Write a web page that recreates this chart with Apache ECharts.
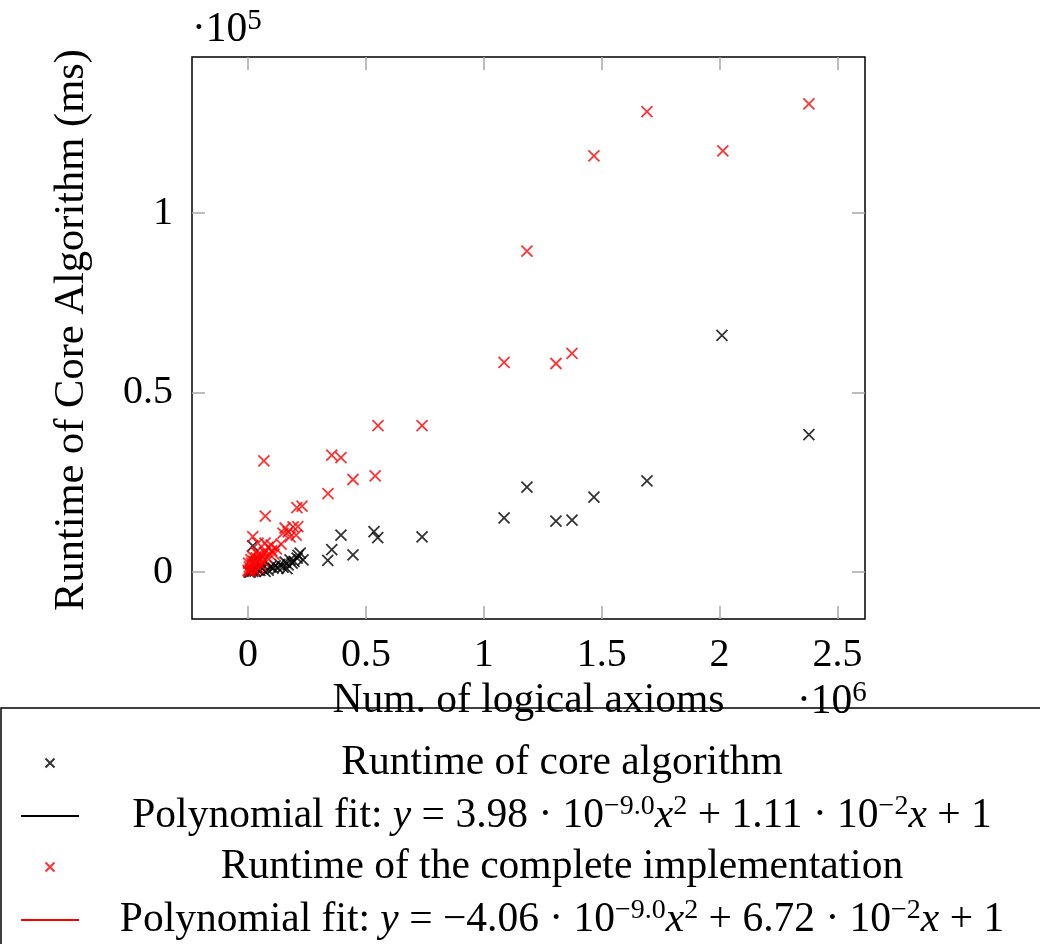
<!DOCTYPE html>
<html>
<head>
<meta charset="utf-8">
<script src="https://cdn.jsdelivr.net/npm/echarts@6/dist/echarts.min.js"></script>
<style>
  html, body { margin: 0; padding: 0; background: #fff; }
  #main { width: 1040px; height: 944px; }
</style>
</head>
<body>
<div id="main"></div>
<script>
// values: [num. of logical axioms, runtime in ms]
var coreRuntime = [
  [2010000, 65900], [2379000, 38300], [1692000, 25400], [1467000, 20900],
  [1183000, 23700], [1086000, 15100], [1306000, 14200], [1374000, 14500],
  [738000, 9800], [534000, 11300], [550000, 9600], [445000, 4800],
  [394000, 10300], [355000, 6300], [338000, 3300], [20000, 7300],
  [221000, 5300], [233000, 3400], [212000, 4700], [208000, 3900],
  [187000, 2500], [178000, 3400], [170000, 2000], [157000, 2800],
  [148000, 1400], [127000, 1100], [106000, 1100], [85000, 600],
  [72000, 200], [60000, 1000], [55000, 1700], [50000, 500],
  [40000, 800], [35000, 1500], [30000, 300], [20000, 200],
  [10000, 100], [5000, 0], [95000, 1500], [115000, 1800],
  [135000, 2200], [165000, 1000], [195000, 3000]
];
var fullRuntime = [
  [2379000, 130400], [1692000, 128200], [2014000, 117300], [1467000, 115900],
  [1183000, 89400], [1086000, 58400], [1306000, 58100], [1374000, 60900],
  [738000, 40800], [551000, 40800], [539000, 26800], [445000, 25800],
  [355000, 32600], [394000, 31900], [339000, 21900], [67000, 31000],
  [73000, 15600], [207000, 18000], [229000, 18400], [211000, 12700],
  [20000, 9900], [157000, 12300], [170000, 11200], [191000, 12600],
  [204000, 10300], [178000, 9800], [148000, 10900], [72000, 8100],
  [85000, 7000], [42000, 8100], [140000, 7800], [98000, 7500],
  [0, 500], [5000, 1500], [10000, 800], [15000, 2500], [20000, 1200],
  [25000, 3000], [30000, 2000], [35000, 4000], [40000, 2800], [45000, 5000],
  [50000, 3500], [55000, 1800], [60000, 4500], [65000, 3000], [70000, 5500],
  [80000, 4000], [90000, 5000], [100000, 6000], [110000, 5000], [8000, 300],
  [3000, 200], [12000, 3500], [28000, 600], [45000, 1000], [2000, 2500],
  [18000, 4500], [33000, 5500], [120000, 6500]
];
var xTicks = [0, 500000, 1000000, 1500000, 2000000, 2500000];
var yTicks = [0, 50000, 100000];
var seriesNames = [
  'Runtime of core algorithm',
  'Polynomial fit: y = 3.98 · 10^−9.0 x^2 + 1.11 · 10^−2 x + 1',
  'Runtime of the complete implementation',
  'Polynomial fit: y = −4.06 · 10^−9.0 x^2 + 6.72 · 10^−2 x + 1'
];
var legendRich = [
  '{n|Runtime of core algorithm}',
  '{n|Polynomial fit: }{i|y}{n| = 3.98 · 10}{s|−9.0}{i|x}{s|2}{n| + 1.11 · 10}{s|−2}{i|x}{n| + 1}',
  '{n|Runtime of the complete implementation}',
  '{n|Polynomial fit: }{i|y}{n| = −4.06 · 10}{s|−9.0}{i|x}{s|2}{n| + 6.72 · 10}{s|−2}{i|x}{n| + 1}'
];

var serif = 'Liberation Serif';
var cross = 'path://M0,0L10,10M10,0L0,10';

var dom = document.getElementById('main');
var myChart = echarts.init(dom);

var tickStyle = { show: true, inside: true, length: 13, lineStyle: { color: '#a8a8a8', width: 1.5 } };

function xAxisDef(pos, labels) {
  return {
    type: 'value', position: pos,
    min: -237900, max: 2616900,
    splitLine: { show: false },
    axisLine: { show: false, onZero: false },
    axisTick: Object.assign({ customValues: xTicks }, tickStyle),
    axisLabel: {
      show: labels, customValues: xTicks, margin: 16,
      color: '#000', fontFamily: serif, fontSize: 40,
      formatter: function (v) { return String(v / 1e6); }
    }
  };
}
function yAxisDef(pos, labels) {
  return {
    type: 'value', position: pos,
    min: -13040, max: 143440,
    splitLine: { show: false },
    axisLine: { show: false, onZero: false },
    axisTick: Object.assign({ customValues: yTicks }, tickStyle),
    axisLabel: {
      show: labels, customValues: yTicks, margin: 19,
      color: '#000', fontFamily: serif, fontSize: 40,
      formatter: function (v) { return String(v / 1e5); }
    }
  };
}

var xBottom = xAxisDef('bottom', true);
xBottom.name = 'Num. of logical axioms';
xBottom.nameLocation = 'middle';
xBottom.nameGap = 60;
xBottom.nameTextStyle = { color: '#000', fontFamily: serif, fontSize: 41.5 };

var yLeft = yAxisDef('left', true);
yLeft.name = 'Runtime of Core Algorithm (ms)';
yLeft.nameLocation = 'middle';
yLeft.nameGap = 99;
yLeft.nameTextStyle = { color: '#000', fontFamily: serif, fontSize: 42.5, padding: [0, 0, 0, 16] };

var txt = { fontFamily: serif, fontSize: 41.5, color: '#000', align: 'center', lineHeight: 46 };

option = {
  backgroundColor: '#fff',
  animation: false,
  grid: {
    left: 192, top: 57, width: 673, height: 562,
    show: true, borderColor: '#000', borderWidth: 1.5, backgroundColor: 'transparent'
  },
  xAxis: [xBottom, xAxisDef('top', false)],
  yAxis: [yLeft, yAxisDef('right', false)],
  legend: {
    orient: 'vertical',
    left: 20, top: 742, height: 260,
    padding: 0,
    itemGap: 9,
    itemWidth: 58, itemHeight: 9,
    selectedMode: false,
    data: seriesNames,
    formatter: function (name) { return legendRich[seriesNames.indexOf(name)]; },
    textStyle: {
      width: 956,
      rich: {
        n: txt,
        i: Object.assign({}, txt, { fontStyle: 'italic' }),
        s: { fontFamily: serif, fontSize: 28, color: '#000', align: 'center', lineHeight: 24, verticalAlign: 'top' }
      }
    }
  },
  graphic: [
    {
      type: 'rect', silent: true,
      shape: { x: 1, y: 708, width: 1100, height: 300 },
      style: { fill: 'none', stroke: '#000', lineWidth: 1.5 }
    },
    {
      type: 'text', x: 192, y: 30, silent: true,
      style: {
        text: '{a|·10}{b|5}', verticalAlign: 'middle',
        rich: {
          a: { fontFamily: serif, fontSize: 41.5, color: '#000', lineHeight: 46 },
          b: { fontFamily: serif, fontSize: 29, color: '#000', lineHeight: 24, verticalAlign: 'top' }
        }
      }
    },
    {
      type: 'text', x: 797, y: 702, silent: true,
      style: {
        text: '{a|·10}{b|6}', verticalAlign: 'middle',
        rich: {
          a: { fontFamily: serif, fontSize: 41.5, color: '#000', lineHeight: 46 },
          b: { fontFamily: serif, fontSize: 29, color: '#000', lineHeight: 24, verticalAlign: 'top' }
        }
      }
    }
  ],
  series: [
    {
      name: seriesNames[0], type: 'scatter',
      symbol: cross, symbolSize: 11,
      itemStyle: { color: '#000', borderColor: '#000', borderWidth: 1.8 },
      emphasis: { disabled: true },
      data: coreRuntime
    },
    {
      // fit curve appears only in the legend of the reference
      name: seriesNames[1], type: 'line', symbol: 'none', showSymbol: false,
      lineStyle: { color: '#000', width: 1.5 },
      itemStyle: { color: 'rgba(0,0,0,0)', borderWidth: 0 },
      data: []
    },
    {
      name: seriesNames[2], type: 'scatter',
      symbol: cross, symbolSize: 11,
      itemStyle: { color: '#ff0000', borderColor: '#ff0000', borderWidth: 1.8 },
      emphasis: { disabled: true },
      data: fullRuntime
    },
    {
      name: seriesNames[3], type: 'line', symbol: 'none', showSymbol: false,
      lineStyle: { color: '#ff0000', width: 1.5 },
      itemStyle: { color: 'rgba(0,0,0,0)', borderWidth: 0 },
      data: []
    }
  ]
};

if (option && typeof option === "object") {
  myChart.setOption(option, true);
}
</script>
</body>
</html>
